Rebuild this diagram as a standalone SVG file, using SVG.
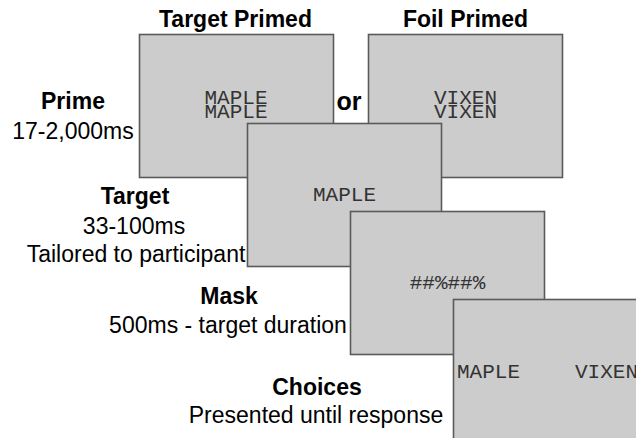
<svg xmlns="http://www.w3.org/2000/svg" width="636" height="438" viewBox="0 0 636 438">
<style>
.screen{fill:#cccccc;stroke:#5a5a5a;stroke-width:1.6}
.mono{font-family:"Courier New","Liberation Mono",monospace;font-size:21px;fill:#333333;text-anchor:middle}
.lab{font-family:"Liberation Sans",Arial,sans-serif;font-size:23px;fill:#000;text-anchor:middle}
.b{font-weight:bold}
</style>
<rect width="636" height="438" fill="#ffffff"/>
<g id="header-target-primed"><text class="lab b" x="235.5" y="27">Target Primed</text></g>
<g id="header-foil-primed"><text class="lab b" x="465.5" y="27">Foil Primed</text></g>
<g id="label-prime">
<text class="lab b" x="73" y="109">Prime</text>
<text class="lab" x="73" y="139">17-2,000ms</text>
</g>
<g id="label-target">
<text class="lab b" x="135" y="204">Target</text>
<text class="lab" x="134" y="234">33-100ms</text>
<text class="lab" x="136" y="262">Tailored to participant</text>
</g>
<g id="label-mask">
<text class="lab b" x="229" y="304">Mask</text>
<text class="lab" x="228" y="333">500ms - target duration</text>
</g>
<g id="label-choices">
<text class="lab b" x="317" y="395">Choices</text>
<text class="lab" x="316" y="423">Presented until response</text>
</g>
<g id="prime-target-screen">
<rect class="screen" x="139.5" y="34.5" width="194" height="143"/>
<text class="mono" x="236" y="104">MAPLE</text>
<text class="mono" x="236" y="118">MAPLE</text>
</g>
<g id="or-label"><text class="lab b" x="349" y="110" style="font-size:25px">or</text></g>
<g id="prime-foil-screen">
<rect class="screen" x="368.5" y="34.5" width="194" height="143"/>
<text class="mono" x="465.5" y="104">VIXEN</text>
<text class="mono" x="465.5" y="118">VIXEN</text>
</g>
<g id="target-screen">
<rect class="screen" x="247.5" y="123.5" width="194" height="143"/>
<text class="mono" x="344.5" y="201">MAPLE</text>
</g>
<g id="mask-screen">
<rect class="screen" x="350.5" y="211.5" width="194" height="143"/>
<text class="mono" x="447.5" y="289">##%##%</text>
</g>
<g id="choices-screen">
<rect class="screen" x="453.5" y="299.5" width="200" height="150"/>
<text class="mono" x="457" y="378" style="text-anchor:start">MAPLE</text>
<text class="mono" x="575" y="378" style="text-anchor:start">VIXEN</text>
</g>
<g id="connectors"/>
</svg>
